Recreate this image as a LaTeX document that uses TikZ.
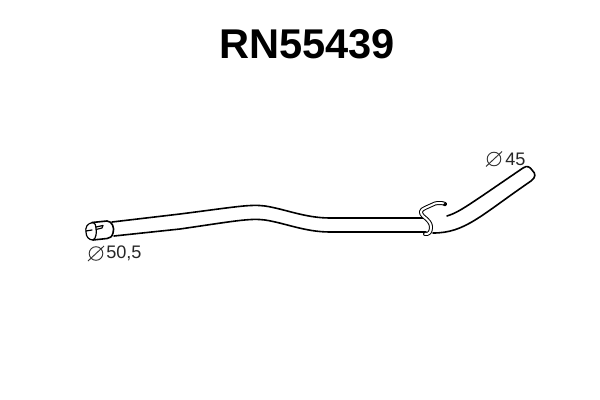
\documentclass[tikz,border=0pt]{standalone}
\usepackage{fontspec}
\setmainfont{Liberation Sans}
\tikzset{pipe/.style={draw=black,line width=1.2pt,line cap=round,line join=round},
thin pipe/.style={draw=black,line width=0.9pt,line cap=round,line join=round},
clamp/.style={draw=black,line width=0.75pt,double=white,double distance=1.5pt,line cap=round,line join=round},
dia/.style={draw=black!80,line width=0.7pt},
lab/.style={inner sep=0pt,font=\fontsize{13.6}{15}\selectfont,text=black!85}}
\begin{document}
\begin{tikzpicture}[x=0.75pt,y=-0.75pt]
\useasboundingbox (0,0) rectangle (600,400);
\fill[white] (0,0) rectangle (600,400);
\node[inner sep=0pt,font=\fontsize{31.2}{34}\bfseries\selectfont] (title) at (307,44.5) {RN55439};
% pipe
\draw[pipe] (112,222) -- (180,214) .. controls (235,207) and (250,204) .. (265,206) .. controls (285,209) and (305,218) .. (330,218) -- (425,218);
\draw[pipe] (114,236) -- (180,229) .. controls (235,221) and (250,218) .. (265,220) .. controls (285,223) and (305,232) .. (330,232) -- (426,232);
\draw[pipe] (447,216) .. controls (460,212) and (470,204) .. (523,168) .. controls (527,165) and (530,167) .. (532,170) .. controls (536,174) and (536,177) .. (531,181) .. controls (480,216) and (465,233) .. (433,233);
% clamp
\draw[clamp] (445,204) .. controls (443,203) and (439,202.5) .. (435,203.5) -- (425,208) .. controls (420,210) and (420,213) .. (423,216) .. controls (428,220) and (431,223) .. (431,227) .. controls (431,232) and (429,234.5) .. (425,234);
\fill[black] (445,204.5) circle (1.8);
% left end
\draw[pipe] (92,222.5) -- (107,221) .. controls (112,221) and (115,228) .. (113,233) .. controls (112,237) and (110,238) .. (107,238.5) -- (93,240);
\draw[thin pipe] (93,222.5) .. controls (87,223) and (85,228) .. (86,232) .. controls (86,237) and (89,240) .. (93,240) .. controls (96,239) and (97,232) .. (96,228) .. controls (96,225) and (95,223) .. (93,222.5);
\draw[thin pipe] (96,227) -- (103,225.5) -- (102,228) -- (96,229.5);
\draw[thin pipe] (86,231) -- (92,230);
\node[lab,anchor=west] (d1) at (106,253.5) {50,5};
\node[lab,anchor=west] (d2) at (505,159) {45};
\draw[dia] (96,253.5) circle (6.8);
\draw[dia] (88,261) -- (104,246);
\draw[dia] (494,159) circle (6.8);
\draw[dia] (486,166.5) -- (502,151.5);
\end{tikzpicture}
\end{document}
